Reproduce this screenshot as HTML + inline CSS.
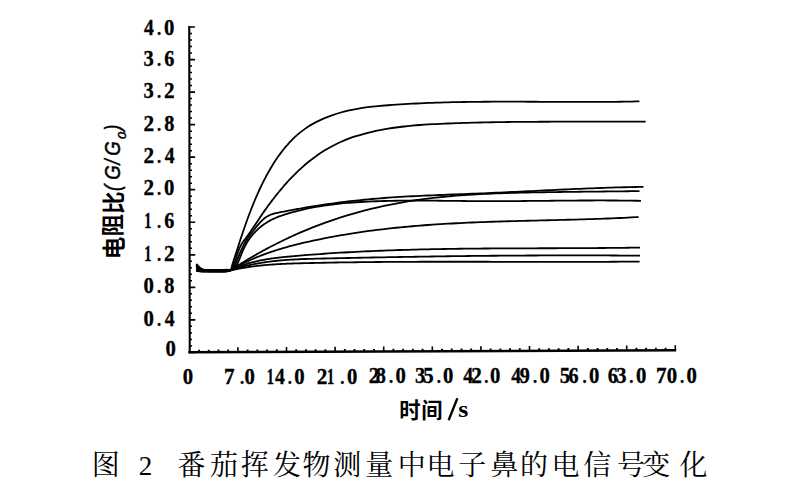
<!DOCTYPE html>
<html><head><meta charset="utf-8"><title>fig2</title>
<style>
html,body{margin:0;padding:0;background:#fff;}
body{width:800px;height:496px;overflow:hidden;font-family:"Liberation Sans",sans-serif;}
svg{display:block;}
</style></head><body>
<svg width="800" height="496" viewBox="0 0 800 496">
<rect width="800" height="496" fill="#fff"/>
<g stroke="#000" fill="none" stroke-linecap="butt">
<line x1="189.25" y1="26.1" x2="189.75" y2="353.3" stroke-width="2.1"/>
<line x1="188.3" y1="352.35" x2="676.2" y2="350.26" stroke-width="2.5"/>
<path d="M189.30 27.00H194.90M189.35 59.54H194.95M189.40 92.08H195.00M189.45 124.62H195.05M189.50 157.16H195.10M189.54 189.70H195.14M189.59 222.24H195.19M189.64 254.78H195.24M189.69 287.32H195.29M189.74 319.86H195.34M189.79 352.40H195.39" stroke-width="1.7"/>
<path d="M189.30 33.51H192.00M189.30 40.02H192.00M189.30 46.52H192.00M189.30 53.03H192.00M189.30 66.05H192.00M189.30 72.56H192.00M189.30 79.06H192.00M189.30 85.57H192.00M189.30 98.59H192.00M189.30 105.10H192.00M189.30 111.60H192.00M189.30 118.11H192.00M189.30 131.13H192.00M189.30 137.64H192.00M189.30 144.14H192.00M189.30 150.65H192.00M189.30 163.67H192.00M189.30 170.18H192.00M189.30 176.68H192.00M189.30 183.19H192.00M189.30 196.21H192.00M189.30 202.72H192.00M189.30 209.22H192.00M189.30 215.73H192.00M189.30 228.75H192.00M189.30 235.26H192.00M189.30 241.76H192.00M189.30 248.27H192.00M189.30 261.29H192.00M189.30 267.80H192.00M189.30 274.30H192.00M189.30 280.81H192.00M189.30 293.83H192.00M189.30 300.34H192.00M189.30 306.84H192.00M189.30 313.35H192.00M189.30 326.37H192.00M189.30 332.88H192.00M189.30 339.38H192.00M189.30 345.89H192.00" stroke-width="1.5"/>
<path d="M237.90 352.64V347.24M286.50 352.43V347.03M335.10 352.22V346.82M383.70 352.01V346.61M432.30 351.81V346.41M480.90 351.60V346.20M529.50 351.39V345.99M578.10 351.18V345.78M626.70 350.97V345.57M675.30 350.76V345.36" stroke-width="1.6"/>
<path d="M199.02 352.31V349.71M208.74 352.27V349.67M218.46 352.22V349.62M228.18 352.18V349.58M247.62 352.10V349.50M257.34 352.06V349.46M267.06 352.02V349.42M276.78 351.97V349.37M296.22 351.89V349.29M305.94 351.85V349.25M315.66 351.81V349.21M325.38 351.76V349.16M344.82 351.68V349.08M354.54 351.64V349.04M364.26 351.60V349.00M373.98 351.56V348.96M393.42 351.47V348.87M403.14 351.43V348.83M412.86 351.39V348.79M422.58 351.35V348.75M442.02 351.26V348.66M451.74 351.22V348.62M461.46 351.18V348.58M471.18 351.14V348.54M490.62 351.05V348.45M500.34 351.01V348.41M510.06 350.97V348.37M519.78 350.93V348.33M539.22 350.85V348.25M548.94 350.80V348.20M558.66 350.76V348.16M568.38 350.72V348.12M587.82 350.64V348.04M597.54 350.59V347.99M607.26 350.55V347.95M616.98 350.51V347.91M636.42 350.43V347.83M646.14 350.39V347.79M655.86 350.34V347.74M665.58 350.30V347.70" stroke-width="1.9"/>
</g>
<g stroke="#000" fill="none" stroke-width="1.8" stroke-linejoin="round" stroke-linecap="butt">
<path d="M196.20 264.00C196.43 264.22 197.05 264.76 197.60 265.30C198.15 265.84 198.77 266.63 199.50 267.25C200.23 267.86 201.08 268.59 202.00 269.01C202.92 269.44 203.67 269.65 205.00 269.80C206.33 269.95 207.50 269.87 210.00 269.90C212.50 269.93 217.17 270.03 220.00 270.00C222.83 269.97 225.25 269.65 227.00 269.70C228.75 269.75 229.58 271.22 230.50 270.29C231.42 269.37 231.83 266.20 232.50 264.13C233.17 262.06 233.83 259.98 234.50 257.90C235.17 255.82 235.83 253.73 236.50 251.66C237.17 249.58 237.83 247.50 238.50 245.44C239.17 243.39 239.83 241.34 240.50 239.31C241.17 237.29 241.83 235.28 242.50 233.31C243.17 231.33 243.83 229.38 244.50 227.46C245.17 225.54 245.83 223.64 246.50 221.78C247.17 219.91 247.83 218.08 248.50 216.28C249.17 214.48 249.83 212.71 250.50 210.98C251.17 209.25 251.83 207.55 252.50 205.89C253.17 204.22 253.83 202.60 254.50 201.00C255.17 199.40 255.83 197.84 256.50 196.30C257.17 194.77 257.83 193.27 258.50 191.80C259.17 190.33 259.83 188.90 260.50 187.49C261.17 186.08 261.83 184.70 262.50 183.35C263.17 182.00 263.83 180.68 264.50 179.39C265.17 178.10 265.83 176.84 266.50 175.60C267.17 174.37 267.83 173.16 268.50 171.98C269.17 170.79 269.83 169.64 270.50 168.51C271.17 167.38 271.83 166.27 272.50 165.19C273.17 164.11 273.83 163.05 274.50 162.02C275.17 160.99 275.83 159.98 276.50 158.99C277.17 158.01 277.83 157.05 278.50 156.10C279.17 155.16 279.83 154.25 280.50 153.35C281.17 152.45 281.83 151.58 282.50 150.72C283.17 149.87 283.83 149.03 284.50 148.22C285.17 147.41 285.83 146.62 286.50 145.84C287.17 145.07 287.83 144.31 288.50 143.58C289.17 142.84 289.83 142.13 290.50 141.43C291.17 140.73 291.83 140.05 292.50 139.39C293.17 138.73 293.83 138.08 294.50 137.45C295.17 136.82 295.83 136.21 296.50 135.62C297.17 135.02 297.92 134.37 298.50 133.88C299.08 133.38 298.42 133.81 300.00 132.63C301.58 131.46 305.33 128.56 308.00 126.81C310.67 125.06 313.33 123.55 316.00 122.15C318.67 120.74 321.33 119.53 324.00 118.39C326.67 117.25 329.33 116.23 332.00 115.29C334.67 114.35 337.33 113.51 340.00 112.74C342.67 111.97 345.33 111.29 348.00 110.67C350.67 110.05 353.33 109.51 356.00 109.02C358.67 108.53 361.33 108.10 364.00 107.71C366.67 107.33 369.33 107.00 372.00 106.69C374.67 106.39 377.33 106.13 380.00 105.88C382.67 105.64 385.33 105.43 388.00 105.23C390.67 105.02 393.33 104.84 396.00 104.66C398.67 104.48 401.33 104.31 404.00 104.15C406.67 103.99 409.33 103.84 412.00 103.70C414.67 103.56 417.33 103.43 420.00 103.31C422.67 103.18 425.33 103.07 428.00 102.97C430.67 102.86 433.33 102.76 436.00 102.67C438.67 102.58 441.33 102.50 444.00 102.42C446.67 102.35 449.33 102.28 452.00 102.22C454.67 102.16 457.33 102.10 460.00 102.05C462.67 102.00 465.33 101.96 468.00 101.92C470.67 101.88 473.33 101.85 476.00 101.82C478.67 101.79 481.33 101.77 484.00 101.75C486.67 101.73 489.33 101.72 492.00 101.71C494.67 101.69 497.33 101.69 500.00 101.68C502.67 101.68 505.33 101.68 508.00 101.68C510.67 101.68 513.33 101.68 516.00 101.69C518.67 101.70 521.33 101.71 524.00 101.71C526.67 101.72 529.33 101.74 532.00 101.75C534.67 101.76 537.33 101.77 540.00 101.79C542.67 101.80 545.33 101.81 548.00 101.83C550.67 101.84 553.33 101.85 556.00 101.87C558.67 101.88 561.33 101.89 564.00 101.90C566.67 101.91 569.33 101.92 572.00 101.93C574.67 101.94 577.33 101.94 580.00 101.94C582.67 101.95 585.33 101.95 588.00 101.95C590.67 101.94 593.33 101.94 596.00 101.93C598.67 101.92 601.33 101.91 604.00 101.89C606.67 101.88 609.33 101.86 612.00 101.83C614.67 101.81 617.33 101.78 620.00 101.75C622.67 101.71 625.33 101.67 628.00 101.63C630.67 101.58 634.10 101.51 636.00 101.47C637.90 101.43 638.83 101.41 639.40 101.40"/>
<path d="M196.20 265.00C196.43 265.19 197.05 265.66 197.60 266.13C198.15 266.60 198.77 267.29 199.50 267.83C200.23 268.37 201.08 269.00 202.00 269.37C202.92 269.74 203.67 269.91 205.00 270.04C206.33 270.17 207.50 270.11 210.00 270.14C212.50 270.18 217.17 270.28 220.00 270.24C222.83 270.21 225.17 270.03 227.00 269.94C228.83 269.85 230.00 270.18 231.00 269.70C232.00 269.23 232.33 268.46 233.00 267.10C233.67 265.75 234.33 263.58 235.00 261.58C235.67 259.58 236.33 257.15 237.00 255.12C237.67 253.08 238.33 251.03 239.00 249.36C239.67 247.69 240.33 246.34 241.00 245.10C241.67 243.86 242.33 242.89 243.00 241.92C243.67 240.94 244.33 240.14 245.00 239.25C245.67 238.36 246.33 237.49 247.00 236.58C247.67 235.67 248.33 234.73 249.00 233.78C249.67 232.84 250.33 231.87 251.00 230.89C251.67 229.92 252.33 228.93 253.00 227.94C253.67 226.94 254.33 225.94 255.00 224.93C255.67 223.93 256.33 222.92 257.00 221.91C257.67 220.91 258.33 219.90 259.00 218.90C259.67 217.90 260.33 216.91 261.00 215.92C261.67 214.94 262.33 213.97 263.00 213.00C263.67 212.04 264.33 211.08 265.00 210.14C265.67 209.19 266.33 208.26 267.00 207.33C267.67 206.41 268.33 205.49 269.00 204.59C269.67 203.68 270.33 202.79 271.00 201.90C271.67 201.01 272.33 200.14 273.00 199.27C273.67 198.40 274.33 197.54 275.00 196.69C275.67 195.85 276.33 195.01 277.00 194.18C277.67 193.35 278.33 192.53 279.00 191.72C279.67 190.91 280.33 190.11 281.00 189.31C281.67 188.52 282.33 187.74 283.00 186.97C283.67 186.19 284.33 185.43 285.00 184.68C285.67 183.92 286.33 183.18 287.00 182.44C287.67 181.70 288.33 180.98 289.00 180.26C289.67 179.54 290.33 178.83 291.00 178.14C291.67 177.44 292.33 176.75 293.00 176.07C293.67 175.39 294.33 174.71 295.00 174.05C295.67 173.39 296.33 172.74 297.00 172.09C297.67 171.45 298.50 170.66 299.00 170.19C299.50 169.71 298.50 170.57 300.00 169.25C301.50 167.94 305.33 164.46 308.00 162.28C310.67 160.09 313.33 158.06 316.00 156.15C318.67 154.24 321.33 152.47 324.00 150.82C326.67 149.17 329.33 147.64 332.00 146.22C334.67 144.80 337.33 143.50 340.00 142.29C342.67 141.07 345.33 139.97 348.00 138.94C350.67 137.92 353.33 136.99 356.00 136.13C358.67 135.26 361.33 134.48 364.00 133.76C366.67 133.04 369.33 132.39 372.00 131.78C374.67 131.17 377.33 130.63 380.00 130.11C382.67 129.60 385.33 129.14 388.00 128.70C390.67 128.27 393.33 127.87 396.00 127.51C398.67 127.15 401.33 126.82 404.00 126.51C406.67 126.21 409.33 125.94 412.00 125.69C414.67 125.44 417.33 125.22 420.00 125.02C422.67 124.82 425.33 124.64 428.00 124.47C430.67 124.31 433.33 124.16 436.00 124.03C438.67 123.89 441.33 123.77 444.00 123.66C446.67 123.54 449.33 123.44 452.00 123.34C454.67 123.24 457.33 123.15 460.00 123.07C462.67 122.98 465.33 122.90 468.00 122.82C470.67 122.74 473.33 122.67 476.00 122.61C478.67 122.54 481.33 122.48 484.00 122.42C486.67 122.36 489.33 122.31 492.00 122.26C494.67 122.21 497.33 122.17 500.00 122.13C502.67 122.09 505.33 122.05 508.00 122.02C510.67 121.98 513.33 121.95 516.00 121.93C518.67 121.90 521.33 121.88 524.00 121.85C526.67 121.83 529.33 121.82 532.00 121.80C534.67 121.78 537.33 121.77 540.00 121.76C542.67 121.75 545.33 121.74 548.00 121.73C550.67 121.72 553.33 121.72 556.00 121.71C558.67 121.71 561.33 121.70 564.00 121.70C566.67 121.70 569.33 121.70 572.00 121.69C574.67 121.69 577.33 121.69 580.00 121.69C582.67 121.69 585.33 121.69 588.00 121.69C590.67 121.70 593.33 121.70 596.00 121.70C598.67 121.70 601.33 121.70 604.00 121.69C606.67 121.69 609.33 121.69 612.00 121.69C614.67 121.69 617.33 121.68 620.00 121.68C622.67 121.67 625.33 121.66 628.00 121.66C630.67 121.65 633.33 121.64 636.00 121.62C638.67 121.61 642.50 121.59 644.00 121.58C645.50 121.57 644.83 121.57 645.00 121.57"/>
<path d="M196.20 266.00C196.43 266.16 197.05 266.56 197.60 266.96C198.15 267.37 198.77 267.95 199.50 268.41C200.23 268.87 201.08 269.42 202.00 269.73C202.92 270.04 203.67 270.18 205.00 270.29C206.33 270.40 207.50 270.35 210.00 270.39C212.50 270.42 216.42 270.57 220.00 270.49C223.58 270.40 229.25 270.27 231.50 269.86C233.75 269.45 232.83 269.00 233.50 268.04C234.17 267.08 234.83 265.58 235.50 264.09C236.17 262.61 236.83 260.78 237.50 259.13C238.17 257.47 238.83 255.76 239.50 254.17C240.17 252.58 240.83 251.04 241.50 249.59C242.17 248.14 242.83 246.75 243.50 245.45C244.17 244.15 244.83 242.93 245.50 241.79C246.17 240.64 246.83 239.58 247.50 238.57C248.17 237.55 248.83 236.61 249.50 235.68C250.17 234.76 250.83 233.88 251.50 233.01C252.17 232.14 252.83 231.30 253.50 230.45C254.17 229.60 254.83 228.75 255.50 227.91C256.17 227.08 256.83 226.25 257.50 225.45C258.17 224.66 258.83 223.87 259.50 223.13C260.17 222.38 260.83 221.66 261.50 220.99C262.17 220.32 262.83 219.69 263.50 219.11C264.17 218.54 264.83 218.01 265.50 217.54C266.17 217.06 266.83 216.64 267.50 216.25C268.17 215.87 268.83 215.53 269.50 215.23C270.17 214.92 270.83 214.65 271.50 214.41C272.17 214.16 272.83 213.95 273.50 213.76C274.17 213.56 274.83 213.39 275.50 213.23C276.17 213.07 276.83 212.93 277.50 212.79C278.17 212.65 278.83 212.52 279.50 212.39C280.17 212.25 280.83 212.12 281.50 211.99C282.17 211.86 282.83 211.73 283.50 211.60C284.17 211.48 284.83 211.35 285.50 211.22C286.17 211.09 286.83 210.96 287.50 210.84C288.17 210.71 288.83 210.59 289.50 210.46C290.17 210.34 290.83 210.21 291.50 210.09C292.17 209.97 292.83 209.84 293.50 209.72C294.17 209.60 294.83 209.48 295.50 209.36C296.17 209.24 296.83 209.12 297.50 209.00C298.17 208.88 299.08 208.72 299.50 208.65C299.92 208.57 298.58 208.80 300.00 208.56C301.42 208.32 305.33 207.63 308.00 207.19C310.67 206.75 313.33 206.32 316.00 205.90C318.67 205.48 321.33 205.07 324.00 204.68C326.67 204.28 329.33 203.90 332.00 203.53C334.67 203.16 337.33 202.81 340.00 202.46C342.67 202.12 345.33 201.79 348.00 201.47C350.67 201.16 353.33 200.85 356.00 200.56C358.67 200.27 361.33 199.99 364.00 199.73C366.67 199.47 369.33 199.22 372.00 198.98C374.67 198.75 377.33 198.52 380.00 198.31C382.67 198.10 385.33 197.90 388.00 197.71C390.67 197.52 393.33 197.34 396.00 197.17C398.67 196.99 401.33 196.83 404.00 196.68C406.67 196.53 409.33 196.38 412.00 196.24C414.67 196.10 417.33 195.97 420.00 195.84C422.67 195.72 425.33 195.60 428.00 195.48C430.67 195.36 433.33 195.25 436.00 195.14C438.67 195.03 441.33 194.93 444.00 194.82C446.67 194.72 449.33 194.62 452.00 194.52C454.67 194.42 457.33 194.32 460.00 194.22C462.67 194.12 465.33 194.02 468.00 193.91C470.67 193.81 473.33 193.71 476.00 193.60C478.67 193.50 481.33 193.39 484.00 193.28C486.67 193.17 489.33 193.05 492.00 192.93C494.67 192.82 497.33 192.69 500.00 192.57C502.67 192.45 505.33 192.33 508.00 192.20C510.67 192.08 513.33 191.95 516.00 191.82C518.67 191.69 521.33 191.56 524.00 191.43C526.67 191.30 529.33 191.17 532.00 191.04C534.67 190.91 537.33 190.78 540.00 190.65C542.67 190.52 545.33 190.39 548.00 190.26C550.67 190.13 553.33 190.01 556.00 189.88C558.67 189.75 561.33 189.63 564.00 189.51C566.67 189.38 569.33 189.26 572.00 189.14C574.67 189.02 577.33 188.91 580.00 188.79C582.67 188.68 585.33 188.57 588.00 188.46C590.67 188.35 593.33 188.25 596.00 188.15C598.67 188.05 601.33 187.95 604.00 187.86C606.67 187.77 609.33 187.68 612.00 187.59C614.67 187.51 617.33 187.43 620.00 187.36C622.67 187.29 625.33 187.22 628.00 187.16C630.67 187.10 633.42 187.04 636.00 186.99C638.58 186.94 642.25 186.89 643.50 186.86"/>
<path d="M196.20 267.00C196.43 267.13 197.05 267.47 197.60 267.80C198.15 268.13 198.77 268.61 199.50 269.00C200.23 269.38 201.08 269.83 202.00 270.08C202.92 270.34 203.67 270.44 205.00 270.53C206.33 270.62 207.50 270.60 210.00 270.63C212.50 270.66 216.33 270.87 220.00 270.73C223.67 270.59 229.67 270.03 232.00 269.79C234.33 269.55 233.33 269.82 234.00 269.30C234.67 268.78 235.33 267.79 236.00 266.67C236.67 265.55 237.33 264.07 238.00 262.58C238.67 261.09 239.33 259.36 240.00 257.72C240.67 256.08 241.33 254.33 242.00 252.74C242.67 251.15 243.33 249.60 244.00 248.19C244.67 246.77 245.33 245.46 246.00 244.23C246.67 243.01 247.33 241.89 248.00 240.83C248.67 239.78 249.33 238.82 250.00 237.91C250.67 236.99 251.33 236.16 252.00 235.36C252.67 234.56 253.33 233.82 254.00 233.09C254.67 232.37 255.33 231.69 256.00 231.03C256.67 230.36 257.33 229.73 258.00 229.12C258.67 228.51 259.33 227.93 260.00 227.37C260.67 226.81 261.33 226.28 262.00 225.77C262.67 225.26 263.33 224.77 264.00 224.30C264.67 223.83 265.33 223.38 266.00 222.95C266.67 222.52 267.33 222.11 268.00 221.72C268.67 221.32 269.33 220.95 270.00 220.59C270.67 220.23 271.33 219.89 272.00 219.56C272.67 219.23 273.33 218.91 274.00 218.61C274.67 218.31 275.33 218.02 276.00 217.74C276.67 217.46 277.33 217.20 278.00 216.94C278.67 216.68 279.33 216.43 280.00 216.19C280.67 215.95 281.33 215.71 282.00 215.49C282.67 215.26 283.33 215.04 284.00 214.82C284.67 214.60 285.33 214.39 286.00 214.18C286.67 213.97 287.33 213.77 288.00 213.56C288.67 213.36 289.33 213.16 290.00 212.97C290.67 212.77 291.33 212.58 292.00 212.39C292.67 212.20 293.33 212.02 294.00 211.83C294.67 211.65 295.33 211.47 296.00 211.30C296.67 211.12 297.33 210.95 298.00 210.78C298.67 210.61 298.33 210.66 300.00 210.28C301.67 209.89 305.33 209.02 308.00 208.45C310.67 207.89 313.33 207.38 316.00 206.90C318.67 206.42 321.33 205.99 324.00 205.59C326.67 205.19 329.33 204.82 332.00 204.49C334.67 204.16 337.33 203.86 340.00 203.59C342.67 203.31 345.33 203.07 348.00 202.85C350.67 202.63 353.33 202.44 356.00 202.26C358.67 202.08 361.33 201.93 364.00 201.79C366.67 201.65 369.33 201.52 372.00 201.41C374.67 201.30 377.33 201.20 380.00 201.12C382.67 201.03 385.33 200.96 388.00 200.90C390.67 200.84 393.33 200.79 396.00 200.75C398.67 200.71 401.33 200.68 404.00 200.66C406.67 200.63 409.33 200.62 412.00 200.61C414.67 200.61 417.33 200.61 420.00 200.61C422.67 200.62 425.33 200.63 428.00 200.65C430.67 200.66 433.33 200.69 436.00 200.71C438.67 200.73 441.33 200.76 444.00 200.78C446.67 200.81 449.33 200.84 452.00 200.87C454.67 200.90 457.33 200.93 460.00 200.96C462.67 200.99 465.33 201.01 468.00 201.04C470.67 201.06 473.33 201.08 476.00 201.10C478.67 201.12 481.33 201.13 484.00 201.14C486.67 201.15 489.33 201.15 492.00 201.15C494.67 201.15 497.33 201.15 500.00 201.14C502.67 201.14 505.33 201.13 508.00 201.11C510.67 201.10 513.33 201.08 516.00 201.07C518.67 201.05 521.33 201.03 524.00 201.01C526.67 200.99 529.33 200.96 532.00 200.94C534.67 200.92 537.33 200.89 540.00 200.86C542.67 200.84 545.33 200.81 548.00 200.79C550.67 200.76 553.33 200.74 556.00 200.71C558.67 200.69 561.33 200.66 564.00 200.64C566.67 200.62 569.33 200.60 572.00 200.58C574.67 200.56 577.33 200.54 580.00 200.52C582.67 200.51 585.33 200.50 588.00 200.49C590.67 200.48 593.33 200.47 596.00 200.47C598.67 200.46 601.33 200.46 604.00 200.47C606.67 200.47 609.33 200.48 612.00 200.50C614.67 200.51 617.33 200.53 620.00 200.55C622.67 200.58 625.33 200.60 628.00 200.64C630.67 200.68 633.83 200.73 636.00 200.76C638.17 200.80 640.17 200.84 641.00 200.86"/>
<path d="M196.20 268.00C196.43 268.11 197.05 268.37 197.60 268.63C198.15 268.89 198.77 269.28 199.50 269.58C200.23 269.88 201.08 270.24 202.00 270.44C202.92 270.64 203.67 270.70 205.00 270.77C206.33 270.84 207.50 270.84 210.00 270.87C212.50 270.90 217.17 271.00 220.00 270.97C222.83 270.94 225.17 270.83 227.00 270.67C228.83 270.51 230.00 270.35 231.00 270.02C232.00 269.70 232.33 269.15 233.00 268.72C233.67 268.29 234.33 267.86 235.00 267.43C235.67 267.00 236.33 266.57 237.00 266.15C237.67 265.73 238.33 265.31 239.00 264.89C239.67 264.47 240.33 264.05 241.00 263.64C241.67 263.22 242.33 262.81 243.00 262.40C243.67 261.99 244.33 261.59 245.00 261.18C245.67 260.78 246.33 260.37 247.00 259.97C247.67 259.57 248.33 259.17 249.00 258.78C249.67 258.38 250.33 257.99 251.00 257.60C251.67 257.21 252.33 256.82 253.00 256.43C253.67 256.04 254.33 255.66 255.00 255.27C255.67 254.89 256.33 254.51 257.00 254.13C257.67 253.76 258.33 253.38 259.00 253.01C259.67 252.63 260.33 252.26 261.00 251.89C261.67 251.52 262.33 251.15 263.00 250.79C263.67 250.42 264.33 250.06 265.00 249.70C265.67 249.34 266.33 248.98 267.00 248.62C267.67 248.27 268.33 247.91 269.00 247.56C269.67 247.21 270.33 246.86 271.00 246.51C271.67 246.16 272.33 245.82 273.00 245.47C273.67 245.13 274.33 244.79 275.00 244.45C275.67 244.11 276.33 243.77 277.00 243.44C277.67 243.10 278.33 242.77 279.00 242.44C279.67 242.11 280.33 241.78 281.00 241.45C281.67 241.13 282.33 240.80 283.00 240.48C283.67 240.16 284.33 239.83 285.00 239.52C285.67 239.20 286.33 238.88 287.00 238.57C287.67 238.25 288.33 237.94 289.00 237.63C289.67 237.32 290.33 237.01 291.00 236.70C291.67 236.40 292.33 236.09 293.00 235.79C293.67 235.49 294.33 235.19 295.00 234.89C295.67 234.59 296.33 234.29 297.00 234.00C297.67 233.71 298.50 233.34 299.00 233.12C299.50 232.90 298.50 233.32 300.00 232.69C301.50 232.06 305.33 230.41 308.00 229.32C310.67 228.23 313.33 227.17 316.00 226.14C318.67 225.11 321.33 224.11 324.00 223.14C326.67 222.17 329.33 221.22 332.00 220.31C334.67 219.40 337.33 218.51 340.00 217.66C342.67 216.80 345.33 215.97 348.00 215.17C350.67 214.37 353.33 213.60 356.00 212.85C358.67 212.10 361.33 211.38 364.00 210.68C366.67 209.99 369.33 209.32 372.00 208.67C374.67 208.03 377.33 207.41 380.00 206.81C382.67 206.21 385.33 205.64 388.00 205.09C390.67 204.54 393.33 204.02 396.00 203.52C398.67 203.01 401.33 202.53 404.00 202.07C406.67 201.62 409.33 201.18 412.00 200.76C414.67 200.35 417.33 199.95 420.00 199.58C422.67 199.21 425.33 198.85 428.00 198.52C430.67 198.18 433.33 197.87 436.00 197.57C438.67 197.28 441.33 197.00 444.00 196.74C446.67 196.48 449.33 196.23 452.00 196.00C454.67 195.78 457.33 195.56 460.00 195.36C462.67 195.17 465.33 194.98 468.00 194.81C470.67 194.64 473.33 194.48 476.00 194.33C478.67 194.18 481.33 194.05 484.00 193.92C486.67 193.80 489.33 193.68 492.00 193.58C494.67 193.47 497.33 193.37 500.00 193.28C502.67 193.19 505.33 193.10 508.00 193.03C510.67 192.95 513.33 192.88 516.00 192.81C518.67 192.74 521.33 192.68 524.00 192.62C526.67 192.56 529.33 192.51 532.00 192.45C534.67 192.40 537.33 192.35 540.00 192.31C542.67 192.26 545.33 192.22 548.00 192.18C550.67 192.13 553.33 192.10 556.00 192.06C558.67 192.02 561.33 191.99 564.00 191.95C566.67 191.92 569.33 191.89 572.00 191.86C574.67 191.83 577.33 191.80 580.00 191.77C582.67 191.74 585.33 191.71 588.00 191.68C590.67 191.66 593.33 191.63 596.00 191.60C598.67 191.57 601.33 191.54 604.00 191.51C606.67 191.49 609.33 191.46 612.00 191.43C614.67 191.40 617.33 191.36 620.00 191.33C622.67 191.30 625.33 191.26 628.00 191.23C630.67 191.19 634.08 191.14 636.00 191.11C637.92 191.08 638.92 191.07 639.50 191.06"/>
<path d="M196.20 269.00C196.43 269.08 197.05 269.27 197.60 269.47C198.15 269.66 198.77 269.94 199.50 270.16C200.23 270.38 201.08 270.66 202.00 270.80C202.92 270.94 203.67 270.96 205.00 271.01C206.33 271.07 207.50 271.08 210.00 271.11C212.50 271.15 217.17 271.25 220.00 271.21C222.83 271.18 225.17 271.13 227.00 270.91C228.83 270.69 230.00 270.25 231.00 269.89C232.00 269.53 232.33 269.13 233.00 268.75C233.67 268.38 234.33 268.01 235.00 267.64C235.67 267.28 236.33 266.92 237.00 266.56C237.67 266.20 238.33 265.85 239.00 265.51C239.67 265.16 240.33 264.82 241.00 264.48C241.67 264.14 242.33 263.81 243.00 263.48C243.67 263.15 244.33 262.83 245.00 262.51C245.67 262.19 246.33 261.87 247.00 261.56C247.67 261.25 248.33 260.94 249.00 260.63C249.67 260.33 250.33 260.03 251.00 259.74C251.67 259.44 252.33 259.15 253.00 258.86C253.67 258.57 254.33 258.29 255.00 258.01C255.67 257.73 256.33 257.45 257.00 257.18C257.67 256.91 258.33 256.64 259.00 256.37C259.67 256.11 260.33 255.84 261.00 255.58C261.67 255.33 262.33 255.07 263.00 254.82C263.67 254.57 264.33 254.32 265.00 254.07C265.67 253.83 266.33 253.59 267.00 253.35C267.67 253.11 268.33 252.87 269.00 252.64C269.67 252.41 270.33 252.18 271.00 251.95C271.67 251.73 272.33 251.50 273.00 251.28C273.67 251.06 274.33 250.84 275.00 250.63C275.67 250.41 276.33 250.20 277.00 249.99C277.67 249.78 278.33 249.58 279.00 249.37C279.67 249.17 280.33 248.97 281.00 248.77C281.67 248.57 282.33 248.37 283.00 248.18C283.67 247.98 284.33 247.79 285.00 247.60C285.67 247.41 286.33 247.22 287.00 247.04C287.67 246.85 288.33 246.67 289.00 246.49C289.67 246.31 290.33 246.13 291.00 245.95C291.67 245.77 292.33 245.60 293.00 245.43C293.67 245.25 294.33 245.08 295.00 244.91C295.67 244.74 296.33 244.58 297.00 244.41C297.67 244.24 298.50 244.04 299.00 243.92C299.50 243.79 298.50 244.03 300.00 243.67C301.50 243.32 305.33 242.41 308.00 241.81C310.67 241.21 313.33 240.62 316.00 240.06C318.67 239.49 321.33 238.95 324.00 238.41C326.67 237.88 329.33 237.37 332.00 236.87C334.67 236.37 337.33 235.89 340.00 235.43C342.67 234.96 345.33 234.51 348.00 234.08C350.67 233.65 353.33 233.23 356.00 232.82C358.67 232.42 361.33 232.03 364.00 231.65C366.67 231.28 369.33 230.91 372.00 230.57C374.67 230.22 377.33 229.88 380.00 229.56C382.67 229.24 385.33 228.93 388.00 228.63C390.67 228.33 393.33 228.05 396.00 227.77C398.67 227.50 401.33 227.23 404.00 226.98C406.67 226.73 409.33 226.49 412.00 226.26C414.67 226.03 417.33 225.80 420.00 225.59C422.67 225.38 425.33 225.18 428.00 224.99C430.67 224.79 433.33 224.61 436.00 224.44C438.67 224.26 441.33 224.09 444.00 223.93C446.67 223.77 449.33 223.62 452.00 223.48C454.67 223.33 457.33 223.20 460.00 223.06C462.67 222.93 465.33 222.81 468.00 222.69C470.67 222.57 473.33 222.46 476.00 222.35C478.67 222.24 481.33 222.14 484.00 222.04C486.67 221.95 489.33 221.85 492.00 221.76C494.67 221.67 497.33 221.59 500.00 221.51C502.67 221.42 505.33 221.35 508.00 221.27C510.67 221.19 513.33 221.12 516.00 221.05C518.67 220.98 521.33 220.91 524.00 220.84C526.67 220.78 529.33 220.71 532.00 220.64C534.67 220.58 537.33 220.52 540.00 220.45C542.67 220.39 545.33 220.32 548.00 220.26C550.67 220.20 553.33 220.13 556.00 220.07C558.67 220.00 561.33 219.93 564.00 219.87C566.67 219.80 569.33 219.73 572.00 219.66C574.67 219.59 577.33 219.51 580.00 219.43C582.67 219.36 585.33 219.28 588.00 219.19C590.67 219.11 593.33 219.02 596.00 218.93C598.67 218.84 601.33 218.75 604.00 218.65C606.67 218.55 609.33 218.44 612.00 218.33C614.67 218.22 617.33 218.11 620.00 217.99C622.67 217.86 625.33 217.74 628.00 217.60C630.67 217.47 634.23 217.28 636.00 217.18C637.77 217.09 638.17 217.06 638.60 217.04"/>
<path d="M196.20 270.00C196.43 270.05 197.05 270.17 197.60 270.30C198.15 270.42 198.77 270.60 199.50 270.75C200.23 270.89 201.08 271.07 202.00 271.15C202.92 271.24 203.67 271.22 205.00 271.26C206.33 271.29 207.50 271.32 210.00 271.36C212.50 271.39 217.17 271.49 220.00 271.46C222.83 271.42 225.17 271.33 227.00 271.16C228.83 270.99 230.00 270.73 231.00 270.44C232.00 270.15 232.33 269.76 233.00 269.43C233.67 269.11 234.33 268.79 235.00 268.48C235.67 268.17 236.33 267.87 237.00 267.58C237.67 267.29 238.33 267.01 239.00 266.74C239.67 266.47 240.33 266.20 241.00 265.94C241.67 265.69 242.33 265.44 243.00 265.20C243.67 264.96 244.33 264.72 245.00 264.50C245.67 264.27 246.33 264.05 247.00 263.84C247.67 263.63 248.33 263.42 249.00 263.22C249.67 263.02 250.33 262.83 251.00 262.64C251.67 262.46 252.33 262.28 253.00 262.10C253.67 261.93 254.33 261.76 255.00 261.60C255.67 261.44 256.33 261.28 257.00 261.13C257.67 260.97 258.33 260.83 259.00 260.68C259.67 260.54 260.33 260.41 261.00 260.27C261.67 260.14 262.33 260.01 263.00 259.89C263.67 259.76 264.33 259.64 265.00 259.53C265.67 259.41 266.33 259.30 267.00 259.19C267.67 259.08 268.33 258.98 269.00 258.87C269.67 258.77 270.33 258.67 271.00 258.58C271.67 258.48 272.33 258.39 273.00 258.30C273.67 258.22 274.33 258.13 275.00 258.05C275.67 257.96 276.33 257.88 277.00 257.80C277.67 257.72 278.33 257.65 279.00 257.57C279.67 257.50 280.33 257.43 281.00 257.36C281.67 257.28 282.33 257.22 283.00 257.15C283.67 257.08 284.33 257.01 285.00 256.95C285.67 256.88 286.33 256.82 287.00 256.76C287.67 256.69 288.33 256.63 289.00 256.57C289.67 256.51 290.33 256.45 291.00 256.39C291.67 256.33 292.33 256.27 293.00 256.21C293.67 256.15 294.33 256.09 295.00 256.03C295.67 255.97 296.33 255.91 297.00 255.86C297.67 255.80 298.50 255.73 299.00 255.68C299.50 255.64 298.50 255.72 300.00 255.60C301.50 255.48 305.33 255.16 308.00 254.94C310.67 254.73 313.33 254.53 316.00 254.33C318.67 254.13 321.33 253.94 324.00 253.75C326.67 253.57 329.33 253.39 332.00 253.22C334.67 253.05 337.33 252.88 340.00 252.72C342.67 252.56 345.33 252.41 348.00 252.26C350.67 252.11 353.33 251.96 356.00 251.83C358.67 251.69 361.33 251.56 364.00 251.43C366.67 251.30 369.33 251.18 372.00 251.07C374.67 250.95 377.33 250.84 380.00 250.73C382.67 250.63 385.33 250.52 388.00 250.43C390.67 250.33 393.33 250.24 396.00 250.15C398.67 250.06 401.33 249.98 404.00 249.90C406.67 249.82 409.33 249.74 412.00 249.67C414.67 249.60 417.33 249.53 420.00 249.47C422.67 249.40 425.33 249.34 428.00 249.29C430.67 249.23 433.33 249.18 436.00 249.13C438.67 249.07 441.33 249.03 444.00 248.98C446.67 248.94 449.33 248.90 452.00 248.86C454.67 248.82 457.33 248.79 460.00 248.75C462.67 248.72 465.33 248.69 468.00 248.66C470.67 248.63 473.33 248.61 476.00 248.58C478.67 248.56 481.33 248.54 484.00 248.52C486.67 248.50 489.33 248.48 492.00 248.46C494.67 248.44 497.33 248.43 500.00 248.41C502.67 248.40 505.33 248.39 508.00 248.37C510.67 248.36 513.33 248.35 516.00 248.34C518.67 248.33 521.33 248.32 524.00 248.32C526.67 248.31 529.33 248.30 532.00 248.29C534.67 248.28 537.33 248.28 540.00 248.27C542.67 248.26 545.33 248.25 548.00 248.25C550.67 248.24 553.33 248.23 556.00 248.23C558.67 248.22 561.33 248.21 564.00 248.20C566.67 248.19 569.33 248.18 572.00 248.17C574.67 248.16 577.33 248.15 580.00 248.14C582.67 248.12 585.33 248.11 588.00 248.10C590.67 248.08 593.33 248.07 596.00 248.05C598.67 248.03 601.33 248.01 604.00 247.99C606.67 247.97 609.33 247.94 612.00 247.92C614.67 247.89 617.33 247.87 620.00 247.84C622.67 247.81 625.33 247.77 628.00 247.74C630.67 247.71 634.00 247.66 636.00 247.63C638.00 247.60 639.33 247.58 640.00 247.57"/>
<path d="M196.20 270.50C196.43 270.54 197.05 270.63 197.60 270.72C198.15 270.80 198.77 270.94 199.50 271.04C200.23 271.14 201.08 271.28 202.00 271.33C202.92 271.39 203.67 271.35 205.00 271.38C206.33 271.40 207.50 271.45 210.00 271.48C212.50 271.51 217.17 271.61 220.00 271.58C222.83 271.55 225.17 271.51 227.00 271.28C228.83 271.04 230.00 270.47 231.00 270.17C232.00 269.88 232.33 269.73 233.00 269.52C233.67 269.30 234.33 269.10 235.00 268.89C235.67 268.69 236.33 268.48 237.00 268.29C237.67 268.09 238.33 267.90 239.00 267.71C239.67 267.52 240.33 267.34 241.00 267.16C241.67 266.98 242.33 266.80 243.00 266.63C243.67 266.46 244.33 266.29 245.00 266.13C245.67 265.96 246.33 265.80 247.00 265.64C247.67 265.49 248.33 265.33 249.00 265.19C249.67 265.04 250.33 264.89 251.00 264.75C251.67 264.60 252.33 264.47 253.00 264.33C253.67 264.20 254.33 264.06 255.00 263.93C255.67 263.81 256.33 263.68 257.00 263.56C257.67 263.44 258.33 263.32 259.00 263.20C259.67 263.09 260.33 262.97 261.00 262.86C261.67 262.75 262.33 262.65 263.00 262.54C263.67 262.44 264.33 262.34 265.00 262.24C265.67 262.15 266.33 262.05 267.00 261.96C267.67 261.87 268.33 261.78 269.00 261.69C269.67 261.60 270.33 261.52 271.00 261.44C271.67 261.36 272.33 261.28 273.00 261.20C273.67 261.12 274.33 261.05 275.00 260.98C275.67 260.91 276.33 260.84 277.00 260.77C277.67 260.70 278.33 260.64 279.00 260.57C279.67 260.51 280.33 260.45 281.00 260.39C281.67 260.33 282.33 260.28 283.00 260.22C283.67 260.17 284.33 260.12 285.00 260.07C285.67 260.01 286.33 259.97 287.00 259.92C287.67 259.87 288.33 259.83 289.00 259.78C289.67 259.74 290.33 259.70 291.00 259.66C291.67 259.62 292.33 259.58 293.00 259.54C293.67 259.50 294.33 259.47 295.00 259.43C295.67 259.40 296.33 259.37 297.00 259.33C297.67 259.30 298.50 259.27 299.00 259.24C299.50 259.22 298.50 259.26 300.00 259.20C301.50 259.14 305.33 258.99 308.00 258.91C310.67 258.83 313.33 258.76 316.00 258.69C318.67 258.63 321.33 258.57 324.00 258.51C326.67 258.45 329.33 258.39 332.00 258.33C334.67 258.27 337.33 258.22 340.00 258.16C342.67 258.10 345.33 258.05 348.00 257.99C350.67 257.94 353.33 257.88 356.00 257.83C358.67 257.77 361.33 257.72 364.00 257.67C366.67 257.61 369.33 257.56 372.00 257.51C374.67 257.46 377.33 257.41 380.00 257.36C382.67 257.31 385.33 257.26 388.00 257.21C390.67 257.16 393.33 257.11 396.00 257.07C398.67 257.02 401.33 256.97 404.00 256.93C406.67 256.88 409.33 256.84 412.00 256.80C414.67 256.75 417.33 256.71 420.00 256.67C422.67 256.63 425.33 256.59 428.00 256.55C430.67 256.51 433.33 256.47 436.00 256.43C438.67 256.39 441.33 256.35 444.00 256.32C446.67 256.28 449.33 256.25 452.00 256.21C454.67 256.18 457.33 256.15 460.00 256.11C462.67 256.08 465.33 256.05 468.00 256.02C470.67 255.99 473.33 255.96 476.00 255.93C478.67 255.90 481.33 255.88 484.00 255.85C486.67 255.82 489.33 255.80 492.00 255.77C494.67 255.75 497.33 255.73 500.00 255.70C502.67 255.68 505.33 255.66 508.00 255.64C510.67 255.62 513.33 255.60 516.00 255.59C518.67 255.57 521.33 255.55 524.00 255.54C526.67 255.52 529.33 255.51 532.00 255.50C534.67 255.48 537.33 255.47 540.00 255.46C542.67 255.45 545.33 255.44 548.00 255.43C550.67 255.43 553.33 255.42 556.00 255.41C558.67 255.41 561.33 255.40 564.00 255.40C566.67 255.40 569.33 255.40 572.00 255.40C574.67 255.40 577.33 255.40 580.00 255.40C582.67 255.40 585.33 255.40 588.00 255.41C590.67 255.41 593.33 255.42 596.00 255.43C598.67 255.44 601.33 255.44 604.00 255.45C606.67 255.47 609.33 255.48 612.00 255.49C614.67 255.50 617.33 255.52 620.00 255.53C622.67 255.55 625.33 255.57 628.00 255.59C630.67 255.60 634.00 255.63 636.00 255.65C638.00 255.66 639.33 255.68 640.00 255.68"/>
<path d="M196.20 271.00C196.43 271.02 197.05 271.08 197.60 271.13C198.15 271.19 198.77 271.27 199.50 271.33C200.23 271.39 201.08 271.48 202.00 271.51C202.92 271.54 203.67 271.48 205.00 271.50C206.33 271.51 207.50 271.57 210.00 271.60C212.50 271.63 217.17 271.73 220.00 271.70C222.83 271.67 225.17 271.63 227.00 271.40C228.83 271.17 230.00 270.57 231.00 270.32C232.00 270.07 232.33 270.02 233.00 269.88C233.67 269.73 234.33 269.59 235.00 269.45C235.67 269.32 236.33 269.18 237.00 269.05C237.67 268.92 238.33 268.79 239.00 268.66C239.67 268.54 240.33 268.42 241.00 268.30C241.67 268.18 242.33 268.06 243.00 267.95C243.67 267.83 244.33 267.72 245.00 267.62C245.67 267.51 246.33 267.40 247.00 267.30C247.67 267.20 248.33 267.10 249.00 267.00C249.67 266.90 250.33 266.81 251.00 266.72C251.67 266.62 252.33 266.53 253.00 266.45C253.67 266.36 254.33 266.28 255.00 266.19C255.67 266.11 256.33 266.03 257.00 265.95C257.67 265.88 258.33 265.80 259.00 265.73C259.67 265.65 260.33 265.58 261.00 265.51C261.67 265.44 262.33 265.38 263.00 265.31C263.67 265.25 264.33 265.18 265.00 265.12C265.67 265.06 266.33 265.00 267.00 264.95C267.67 264.89 268.33 264.83 269.00 264.78C269.67 264.73 270.33 264.68 271.00 264.63C271.67 264.58 272.33 264.53 273.00 264.48C273.67 264.43 274.33 264.39 275.00 264.35C275.67 264.30 276.33 264.26 277.00 264.22C277.67 264.18 278.33 264.14 279.00 264.10C279.67 264.07 280.33 264.03 281.00 263.99C281.67 263.96 282.33 263.92 283.00 263.89C283.67 263.86 284.33 263.83 285.00 263.80C285.67 263.77 286.33 263.74 287.00 263.71C287.67 263.68 288.33 263.66 289.00 263.63C289.67 263.60 290.33 263.58 291.00 263.55C291.67 263.53 292.33 263.51 293.00 263.48C293.67 263.46 294.33 263.44 295.00 263.42C295.67 263.40 296.33 263.38 297.00 263.36C297.67 263.34 298.50 263.31 299.00 263.30C299.50 263.28 298.50 263.31 300.00 263.27C301.50 263.23 305.33 263.13 308.00 263.07C310.67 263.01 313.33 262.95 316.00 262.89C318.67 262.84 321.33 262.78 324.00 262.73C326.67 262.68 329.33 262.63 332.00 262.59C334.67 262.54 337.33 262.50 340.00 262.45C342.67 262.41 345.33 262.37 348.00 262.33C350.67 262.30 353.33 262.26 356.00 262.23C358.67 262.20 361.33 262.16 364.00 262.14C366.67 262.11 369.33 262.08 372.00 262.05C374.67 262.03 377.33 262.00 380.00 261.98C382.67 261.96 385.33 261.94 388.00 261.92C390.67 261.90 393.33 261.89 396.00 261.87C398.67 261.86 401.33 261.84 404.00 261.83C406.67 261.82 409.33 261.81 412.00 261.80C414.67 261.79 417.33 261.78 420.00 261.77C422.67 261.76 425.33 261.76 428.00 261.75C430.67 261.75 433.33 261.74 436.00 261.74C438.67 261.74 441.33 261.74 444.00 261.73C446.67 261.73 449.33 261.73 452.00 261.73C454.67 261.73 457.33 261.73 460.00 261.74C462.67 261.74 465.33 261.74 468.00 261.74C470.67 261.75 473.33 261.75 476.00 261.75C478.67 261.76 481.33 261.76 484.00 261.77C486.67 261.77 489.33 261.77 492.00 261.78C494.67 261.78 497.33 261.79 500.00 261.79C502.67 261.80 505.33 261.81 508.00 261.81C510.67 261.82 513.33 261.82 516.00 261.83C518.67 261.83 521.33 261.84 524.00 261.84C526.67 261.85 529.33 261.85 532.00 261.85C534.67 261.86 537.33 261.86 540.00 261.86C542.67 261.87 545.33 261.87 548.00 261.87C550.67 261.87 553.33 261.88 556.00 261.88C558.67 261.88 561.33 261.88 564.00 261.88C566.67 261.88 569.33 261.88 572.00 261.87C574.67 261.87 577.33 261.87 580.00 261.86C582.67 261.86 585.33 261.85 588.00 261.85C590.67 261.84 593.33 261.83 596.00 261.82C598.67 261.82 601.33 261.81 604.00 261.79C606.67 261.78 609.33 261.77 612.00 261.76C614.67 261.74 617.33 261.73 620.00 261.71C622.67 261.69 625.33 261.67 628.00 261.65C630.67 261.63 634.07 261.60 636.00 261.58C637.93 261.57 639.00 261.56 639.60 261.55"/>
</g>
<g font-family="'Liberation Serif', serif" font-weight="bold" font-size="23.5px" fill="#000" stroke="#000" stroke-width="0.35">
<text transform="translate(144.03 34.60) scale(0.837 1.000)">4</text><text transform="translate(156.97 34.60) scale(0.709 0.780)">.</text><text transform="translate(164.11 34.60) scale(0.884 1.000)">0</text>
<text transform="translate(143.53 66.20) scale(0.874 1.000)">3</text><text transform="translate(156.97 66.20) scale(0.709 0.780)">.</text><text transform="translate(164.21 66.20) scale(0.858 1.000)">6</text>
<text transform="translate(143.53 98.30) scale(0.874 1.000)">3</text><text transform="translate(156.97 98.30) scale(0.709 0.780)">.</text><text transform="translate(164.01 98.30) scale(0.902 1.000)">2</text>
<text transform="translate(143.41 131.10) scale(0.902 1.000)">2</text><text transform="translate(156.97 131.10) scale(0.709 0.780)">.</text><text transform="translate(164.23 131.10) scale(0.864 1.000)">8</text>
<text transform="translate(143.41 162.80) scale(0.902 1.000)">2</text><text transform="translate(156.97 162.80) scale(0.709 0.780)">.</text><text transform="translate(164.63 162.80) scale(0.837 1.000)">4</text>
<text transform="translate(143.41 195.40) scale(0.902 1.000)">2</text><text transform="translate(156.97 195.40) scale(0.709 0.780)">.</text><text transform="translate(164.11 195.40) scale(0.884 1.000)">0</text>
<text transform="translate(144.15 227.90) scale(0.613 1.000)">1</text><text transform="translate(156.97 227.90) scale(0.709 0.780)">.</text><text transform="translate(164.21 227.90) scale(0.858 1.000)">6</text>
<text transform="translate(144.15 260.70) scale(0.613 1.000)">1</text><text transform="translate(156.97 260.70) scale(0.709 0.780)">.</text><text transform="translate(164.01 260.70) scale(0.902 1.000)">2</text>
<text transform="translate(143.51 293.00) scale(0.884 1.000)">0</text><text transform="translate(156.97 293.00) scale(0.709 0.780)">.</text><text transform="translate(164.23 293.00) scale(0.864 1.000)">8</text>
<text transform="translate(143.51 325.60) scale(0.884 1.000)">0</text><text transform="translate(156.97 325.60) scale(0.709 0.780)">.</text><text transform="translate(164.63 325.60) scale(0.837 1.000)">4</text>
<text transform="translate(165.51 355.70) scale(0.884 1.000)">0</text>
<text transform="translate(182.81 383.80) scale(0.884 1.000)">0</text>
<text transform="translate(224.00 383.71) scale(0.895 1.000)">7</text><text transform="translate(239.97 383.71) scale(0.709 0.780)">.</text><text transform="translate(244.51 383.71) scale(0.884 1.000)">0</text>
<text transform="translate(266.65 383.61) scale(0.613 1.000)">1</text><text transform="translate(275.03 383.61) scale(0.837 1.000)">4</text><text transform="translate(287.67 383.61) scale(0.709 0.780)">.</text><text transform="translate(294.31 383.61) scale(0.884 1.000)">0</text>
<text transform="translate(316.71 383.50) scale(0.902 1.000)">2</text><text transform="translate(327.05 383.50) scale(0.613 1.000)">1</text><text transform="translate(340.37 383.50) scale(0.709 0.780)">.</text><text transform="translate(346.91 383.50) scale(0.884 1.000)">0</text>
<text transform="translate(368.71 383.39) scale(0.902 1.000)">2</text><text transform="translate(375.63 383.39) scale(0.864 1.000)">8</text><text transform="translate(389.07 383.39) scale(0.709 0.780)">.</text><text transform="translate(395.51 383.39) scale(0.884 1.000)">0</text>
<text transform="translate(414.93 383.29) scale(0.874 1.000)">3</text><text transform="translate(423.37 383.29) scale(0.885 1.000)">5</text><text transform="translate(436.87 383.29) scale(0.709 0.780)">.</text><text transform="translate(443.01 383.29) scale(0.884 1.000)">0</text>
<text transform="translate(463.23 383.18) scale(0.837 1.000)">4</text><text transform="translate(471.21 383.18) scale(0.902 1.000)">2</text><text transform="translate(484.37 383.18) scale(0.709 0.780)">.</text><text transform="translate(489.91 383.18) scale(0.884 1.000)">0</text>
<text transform="translate(511.13 383.08) scale(0.837 1.000)">4</text><text transform="translate(519.65 383.08) scale(0.858 1.000)">9</text><text transform="translate(533.07 383.08) scale(0.709 0.780)">.</text><text transform="translate(539.61 383.08) scale(0.884 1.000)">0</text>
<text transform="translate(559.87 382.97) scale(0.885 1.000)">5</text><text transform="translate(568.51 382.97) scale(0.858 1.000)">6</text><text transform="translate(582.47 382.97) scale(0.709 0.780)">.</text><text transform="translate(589.01 382.97) scale(0.884 1.000)">0</text>
<text transform="translate(607.81 382.86) scale(0.858 1.000)">6</text><text transform="translate(616.33 382.86) scale(0.874 1.000)">3</text><text transform="translate(629.37 382.86) scale(0.709 0.780)">.</text><text transform="translate(635.91 382.86) scale(0.884 1.000)">0</text>
<text transform="translate(656.10 382.76) scale(0.895 1.000)">7</text><text transform="translate(666.81 382.76) scale(0.884 1.000)">0</text><text transform="translate(679.97 382.76) scale(0.709 0.780)">.</text><text transform="translate(686.51 382.76) scale(0.884 1.000)">0</text>
</g>
<g fill="#000" font-family="'Liberation Sans', 'Noto Sans CJK SC', sans-serif" font-weight="bold" font-size="21.3px" text-anchor="middle">
<text x="410" y="417.7">时</text>
<text x="431.8" y="417.5">间</text>
</g>
<line x1="448.6" y1="420.3" x2="457.4" y2="398.2" stroke="#000" stroke-width="2.3"/>
<text font-family="'Liberation Serif', serif" font-weight="bold" font-size="23.5px" transform="translate(458.2 417.1) scale(1.1 1)" x="0" y="0">s</text>
<g fill="#000" font-family="'Liberation Sans', 'Noto Sans CJK SC', sans-serif" font-weight="bold" font-size="22.5px" text-anchor="middle">
<text transform="translate(112.80 247.90) rotate(-90)" x="0" y="8.8">电</text>
<text transform="translate(112.80 225.30) rotate(-90)" x="0" y="8.4">阻</text>
<text transform="translate(112.80 202.80) rotate(-90)" x="0" y="8.7">比</text>
</g>
<g transform="translate(120.1 191) rotate(-90)" font-family="'Liberation Sans', sans-serif" font-style="italic" fill="#000" stroke="#000" stroke-width="0.5"><text transform="scale(0.82 1)" font-size="22.8px" x="0.02 13.63 32.20 42.90 73.41" y="0">(G/G)</text><text transform="translate(52.0 6.0) scale(1.1 1)" font-size="11.5px" x="0" y="0">0</text></g>
<text font-family="'Liberation Serif', 'Noto Serif CJK SC', serif" font-size="28px" fill="#000" y="474.7" x="91.66 177.62 210.05 240.78 273.10 302.38 333.14 365.19 397.72 426.47 458.36 490.17 519.91 551.47 583.27 617.11 642.32 679.43">图番茄挥发物测量中电子鼻的电信号变化</text>
<text font-family="'Liberation Serif', serif" font-size="27px" x="138.7" y="475.2" fill="#000">2</text>
</svg>
</body></html>
